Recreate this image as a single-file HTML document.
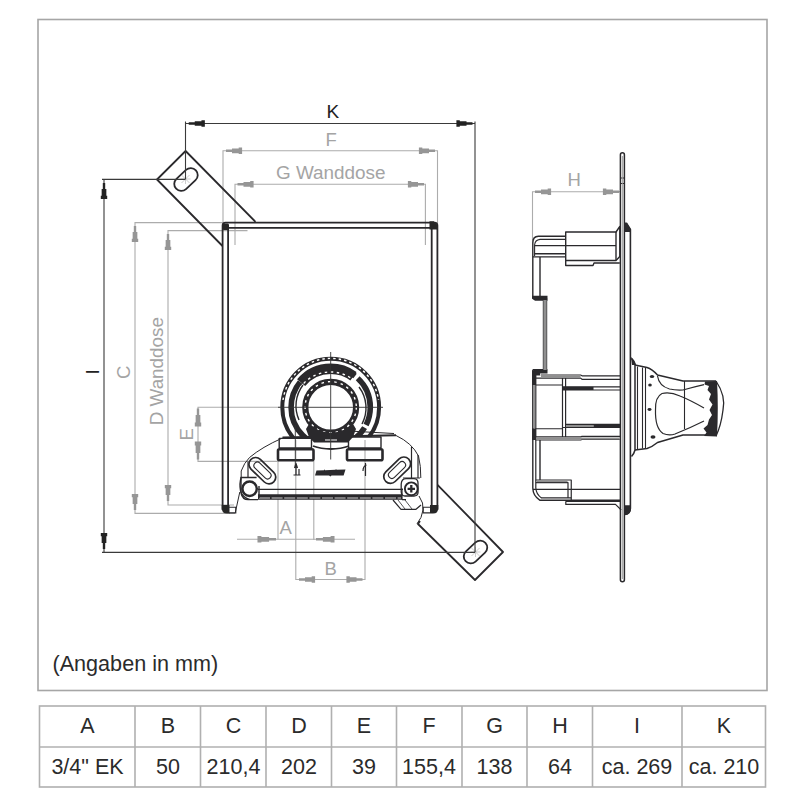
<!DOCTYPE html>
<html><head><meta charset="utf-8">
<style>
html,body{margin:0;padding:0;background:#fff;width:800px;height:800px;overflow:hidden}
svg{display:block;position:absolute;left:0;top:0}
text{font-family:"Liberation Sans",sans-serif}
</style></head><body>
<svg width="800" height="800" viewBox="0 0 800 800">
<!-- frame -->
<rect x="38" y="19.5" width="729" height="671" fill="none" stroke="#a6a6a6" stroke-width="1.6"/>
<!-- table -->
<g stroke="#b0b0b0" stroke-width="1.6" fill="none">
<rect x="39.5" y="706" width="726" height="81"/>
<line x1="39.5" y1="747" x2="765.5" y2="747"/>
<line x1="135" y1="706" x2="135" y2="787"/>
<line x1="200.5" y1="706" x2="200.5" y2="787"/>
<line x1="266" y1="706" x2="266" y2="787"/>
<line x1="331.5" y1="706" x2="331.5" y2="787"/>
<line x1="396.5" y1="706" x2="396.5" y2="787"/>
<line x1="462" y1="706" x2="462" y2="787"/>
<line x1="527" y1="706" x2="527" y2="787"/>
<line x1="592.5" y1="706" x2="592.5" y2="787"/>
<line x1="682" y1="706" x2="682" y2="787"/>
</g>
<g fill="#2b2b2b" font-size="21.5" text-anchor="middle">
<text x="87.5" y="732.8">A</text>
<text x="168" y="732.8">B</text>
<text x="233.5" y="732.8">C</text>
<text x="299" y="732.8">D</text>
<text x="364" y="732.8">E</text>
<text x="429" y="732.8">F</text>
<text x="494.5" y="732.8">G</text>
<text x="560" y="732.8">H</text>
<text x="637" y="732.8">I</text>
<text x="724" y="732.8">K</text>
<text x="87.5" y="773.8">3/4" EK</text>
<text x="168" y="773.8">50</text>
<text x="233.5" y="773.8">210,4</text>
<text x="299" y="773.8">202</text>
<text x="364" y="773.8">39</text>
<text x="429" y="773.8">155,4</text>
<text x="494.5" y="773.8">138</text>
<text x="560" y="773.8">64</text>
<text x="637" y="773.8">ca. 269</text>
<text x="724" y="773.8">ca. 210</text>
</g>
<text x="52.5" y="671" font-size="21.6" fill="#2b2b2b">(Angaben in mm)</text>

<!-- DRAWING -->
<defs>
<path id="ar" d="M-1.2,0 H1.2 V6 H2.35 V12.7 H3.2 V16.1 H-3.2 V12.7 H-2.35 V6 H-1.2 Z"/>
</defs>
<!-- gray dimension lines -->
<g stroke="#acacac" stroke-width="1.1" fill="none">
<!-- F -->
<polyline points="223,231 223,150.8 437.5,150.8 437.5,225"/>
<!-- G -->
<polyline points="235,245 235,184.3 425.4,184.3 425.4,245"/>
<!-- C -->
<polyline points="223,222.6 135,222.6 135,513.4 235,513.4"/>
<!-- D -->
<polyline points="247.5,230.6 168,230.6 168,505 234,505"/>
<!-- E -->
<polyline points="280,407.3 198,407.3 198,461.4 278,461.4"/>
<!-- H -->
<polyline points="532.5,240 532.5,191.8 621,191.8"/>
<!-- A -->
<line x1="237" y1="539.3" x2="355" y2="539.3"/>
<line x1="278" y1="461" x2="278" y2="539.3"/>
<line x1="313.8" y1="461" x2="313.8" y2="540"/>
<!-- B -->
<polyline points="295.8,440 295.8,579.5 365,579.5 365,440"/>
</g>
<g fill="#969696">
<use href="#ar" transform="translate(226,150.8) rotate(-90)"/>
<use href="#ar" transform="translate(435,150.8) rotate(90)"/>
<use href="#ar" transform="translate(237.5,184.3) rotate(-90)"/>
<use href="#ar" transform="translate(424,184.3) rotate(90)"/>
<use href="#ar" transform="translate(135,226)"/>
<use href="#ar" transform="translate(135,510) rotate(180)"/>
<use href="#ar" transform="translate(168,234)"/>
<use href="#ar" transform="translate(168,501) rotate(180)"/>
<use href="#ar" transform="translate(198,408.4) scale(1,1.12)"/>
<use href="#ar" transform="translate(198,459.6) rotate(180) scale(1,1.12)"/>
<use href="#ar" transform="translate(535,191.8) rotate(-90)"/>
<use href="#ar" transform="translate(619,191.8) rotate(90)"/>
<use href="#ar" transform="translate(276,539.3) rotate(90) scale(1,1.15)"/>
<use href="#ar" transform="translate(316,539.3) rotate(-90) scale(1,1.15)"/>
<use href="#ar" transform="translate(299,579.5) rotate(-90)"/>
<use href="#ar" transform="translate(362.5,579.5) rotate(90)"/>
</g>
<g fill="#a4a4a4" font-size="18.5">
<text x="325.5" y="145.8">F</text>
<text x="276" y="179.3" font-size="18.9">G Wanddose</text>
<text x="567.5" y="186.3">H</text>
<text x="279.5" y="534.3">A</text>
<text x="324.5" y="574.6">B</text>
<text transform="translate(130,379) rotate(-90)">C</text>
<text transform="translate(163,425.3) rotate(-90)" font-size="18.85">D Wanddose</text>
<text transform="translate(192.8,440.5) rotate(-90)">E</text>
</g>

<!-- FRONT VIEW -->
<g stroke="#2a292c" fill="none" stroke-width="1.8" stroke-linejoin="round">
<!-- upper tab -->
<path d="M255.5,221.8 L185.6,151 L157,179.5 L222.5,246"/>
<!-- slot upper -->
<rect x="172.5" y="172.5" width="27" height="14" rx="7" transform="rotate(-43 186 179.5)"/>
<!-- lower tab -->
<path d="M437.5,484.8 L503,552 L475,580 L418,524 L420,521"/>
<rect x="462" y="545" width="27" height="14" rx="7" transform="rotate(-43 475.5 552)"/>
<!-- box -->
<path d="M222.6,510 V225.5 Q222.6,222.6 225.5,222.6 H434.5 Q437.4,222.6 437.4,225.5 V510"/>
<path d="M228.1,506 V227.8 H431.7 V506"/>
</g>
<g fill="#262626">
<rect x="222.5" y="223.5" width="6.5" height="6.5" rx="1.5"/>
<path d="M429.5,221.3 H433.8 L437.4,225 V229.6 H429.5 Z"/>
<path d="M221.7,505 H229.5 V513.5 H227 Q221.7,513.5 221.7,508 Z"/>
<path d="M430,505 H438.3 V508 Q438.3,513.5 433,513.5 H430 Z"/>
</g>
<g fill="none" stroke="#2a292c" stroke-width="1.1">
<path d="M229,507.3 H235.8 V512.9 H229"/>
<path d="M430,507.3 H423.2 V512.9 H430"/>
</g>

<!-- PLATE + FITTING -->
<g stroke="#2a292c" fill="none" stroke-linejoin="round">
<!-- plate thin outline -->
<path stroke-width="1" d="M235.3,512.5 L239.8,492 M241.2,477 V471 Q244,463 249.5,457.5 Q262,447 282.5,438"/>
<path stroke-width="1.2" d="M241.2,477 Q239,484 240.5,491 Q243,498 250,499.5"/>
<path stroke-width="1" d="M396,435.5 Q412,443 418.5,456 Q421,466 420.8,478 M419,496 Q424,503 423,510 Q422,518 417,523.8"/>
<!-- plate top thick edge -->
<path stroke-width="2" d="M282.5,437.5 L396,435.3"/>
<path stroke-width="1" d="M354,431.3 L394,433.5"/>
<!-- plate bottom lines -->
<path stroke-width="1.3" d="M258,489.3 H403"/>
<path stroke-width="5.4" d="M258,497 H402"/>
<path stroke-width="1" stroke="#cfcfcf" stroke-dasharray="11 1.6" d="M259,498 H401"/>
<path stroke-width="1.2" d="M248,499.6 H258 M402,499.6 H406"/>
<path stroke-width="1.2" d="M393,500 L401,509.3 L416,509.3 L421,505"/>
<path stroke-width="0.8" d="M398,500 L405,509 M405,500 L412,509"/>
<!-- plate lower-left corner box -->
<path stroke-width="1.2" d="M248,461.5 V477"/>
<path stroke-width="1.2" d="M402,488.6 V499.5 M403,478 H420 M411.5,447 V478 M418,455 V478"/>
<!-- slots on plate -->
<rect stroke-width="1.7" x="246.5" y="464" width="32" height="13.5" rx="6.7" transform="rotate(44 262.5 470.5)"/>
<rect stroke-width="1.1" x="252" y="467" width="21" height="7" rx="3.5" transform="rotate(44 262.5 470.5)"/>
<rect stroke-width="1.7" x="381" y="463.5" width="32" height="13.5" rx="6.7" transform="rotate(-44 397 470)"/>
<rect stroke-width="1.1" x="386.5" y="466.5" width="21" height="7" rx="3.5" transform="rotate(-44 397 470)"/>
<!-- screws -->
<circle cx="249.6" cy="488.7" r="7.2" stroke-width="2.5"/>
<path stroke-width="1.4" d="M241,493 V477.5 H256.6 M241,493 Q242.5,499.5 248,499.6 M259,486 V498"/>
<circle cx="411.3" cy="488.8" r="6.4" stroke-width="1.9"/>
<path stroke-width="2.3" d="M407.6,488.8 H415 M411.3,485.1 V492.5"/>
<path stroke-width="1.3" d="M401.2,484 Q401.5,478.8 406,478.6 H414 Q418,479 418,483 V493 Q417.5,496 414,496 H405 Q401.5,496 401.2,492 Z"/>
<!-- ports -->
<rect stroke-width="1.4" x="279.2" y="438.4" width="32.3" height="9.6"/>
<rect stroke-width="2.6" x="278" y="449.3" width="35.5" height="11" rx="1.5"/>
<rect stroke-width="1.4" x="348.5" y="437" width="32.5" height="11"/>
<rect stroke-width="2.6" x="347" y="449.3" width="35.5" height="11" rx="1.5"/>
<!-- logo -->
<path fill="#2a292c" stroke="none" d="M316.5,470.6 L324,470.3 L324.5,469.3 L325,470.2 L335.5,469.8 L336,469 L336.6,469.8 L345.5,469.4 L343.6,475.4 L331.5,475.5 L330.5,476.6 L329,475.5 L315,475.4 Z"/>
<!-- port arrows -->
<path stroke-width="1.2" d="M296,475 V465 M294.5,468 L296,463.5 L297.5,468 M299,475 V469 M293.5,475 H300.5 M365.5,463 V476 M363,471 Q363,466 366.5,465"/>
<!-- fitting rings -->
</g>
<clipPath id="fc"><rect x="270" y="340" width="122" height="97"/></clipPath>
<g stroke="#2a292c" fill="none" clip-path="url(#fc)">
<circle cx="330.7" cy="407.2" r="48.4" stroke-width="4"/>
<path stroke="#fff" stroke-width="1.4" stroke-dasharray="2.5 3" d="M283,400 A48.2,48.2 0 0 1 378.5,400"/>
<circle cx="330.7" cy="407.2" r="39.6" stroke-width="5.6" stroke-dasharray="18.5 3 130 3 58 3.5 37.2 0"/>
<circle cx="330.7" cy="407.2" r="38.4" stroke-width="10.5" stroke-dasharray="0 147 58 1000"/>
<path stroke="#fff" stroke-width="1.4" stroke-dasharray="2.5 3.5" d="M300,388 A37,37 0 0 1 361,388"/>
<path stroke-width="1.4" d="M303,385 A34.5,34.5 0 0 0 299,420 M359,387 A34.5,34.5 0 0 1 362,424"/>
<circle cx="330.7" cy="407.2" r="25.4" stroke-width="6.2"/>
<circle cx="330.7" cy="407.2" r="25.6" stroke="#fff" stroke-width="1.4" stroke-dasharray="2.5 4"/>
</g>
<!-- bottom dark blob of fitting -->
<path fill="#2a292c" d="M309,424 Q318,432 331,433 Q344,432 353,424 L356,429 L353,437 L348,442.5 H314 L309,437 L306,429 Z"/>
<path fill="none" stroke="#2a292c" stroke-width="1.8" d="M313,446 Q321,449 331,449 Q341,449 349,446"/>
<path fill="none" stroke="#fff" stroke-width="1" d="M325,440 H337"/>
<!-- center lines -->
<g stroke="#333" stroke-width="0.9" fill="none">
<line x1="330.7" y1="352" x2="330.7" y2="459.5"/>
<line x1="278" y1="407.3" x2="383" y2="407.3"/>
<line x1="295.3" y1="425" x2="295.3" y2="466"/>
</g>

<!-- SIDE VIEW -->
<g stroke="#2a292c" fill="none" stroke-linejoin="round" stroke-width="1.4">
<!-- plate -->
<rect x="620.4" y="152.8" width="4" height="429" rx="2" stroke-width="1.5"/>
<path stroke-width="1" d="M620.6,178 H624.2 M620.6,183.5 H624.2"/>
<!-- right frame -->
<path stroke-width="1.6" d="M624.8,223.2 H626.5 L630.4,229.5 V508 Q630.2,514.5 624.8,514.5"/>
<path stroke-width="1.2" d="M625,231.5 H630 M625,506 H630"/>
<path stroke="#999" stroke-width="0.9" d="M622.4,156 V579"/>
<!-- upper assembly -->
<path d="M532.8,298.5 V243 Q532.8,236.3 538.4,236.3 H565.6"/>
<path stroke-width="1.1" d="M534.6,256 V245 Q535,240 540,239.4 H565.6"/>
<path d="M534.6,245.6 H616 M534.6,253.75 H565.6 M532.8,256.9 H565.6"/>
<path d="M540,256.9 V297 M532.8,298.5 H546.5 V310"/>
<path d="M565.7,232 H616 L619.8,226.5 V256.5 L616,260.5 H565.7 Z"/>
<path d="M616,232 V260"/>
<path d="M565.7,260.5 V265.5 H593 L594,263 H619.8"/>
<!-- wall down to lower box -->
<path d="M546.5,310 V370.5"/>
<path d="M543.5,298.5 V370.5"/>
<!-- lower box -->
<path d="M532.8,369.8 H543 L546.5,372 M532.8,369.8 V488 Q533,496 540,500.3 H620.3"/>
<path stroke-width="1.2" d="M535.8,372 V488 Q536.3,494.5 541.5,497.9 H571.25"/>
<path stroke-width="1.2" d="M540.6,375 H580.6 L582,375.8 H620.3 M535.6,378.1 H580.6 L582,379.3 H620.3"/>
<path stroke-width="1.2" d="M535.6,385 H562.5 M535.6,428.75 H562.5"/>
<path stroke-width="1.2" d="M562.5,378.1 V437 M565.6,378.1 V437"/>
<path stroke-width="1.2" d="M562.5,386.9 H620.3 M562.5,390 H620.3"/>
<path stroke-width="1.2" d="M565.6,424.4 H620.3 M562.5,427.5 H620.3"/>
<path stroke-width="1.2" d="M535.6,436.9 H580.6 L582,436.4 H620.3 M535.6,440 H580.6 L582,439.5 H620.3"/>
<g stroke="none" fill="#8f8f8f">
<rect x="541" y="375.6" width="39.5" height="2"/>
<rect x="566" y="425" width="27.5" height="2"/>
<rect x="536" y="437.5" width="84" height="2"/>
<rect x="533.1" y="385" width="2" height="43.5"/>
</g>
<g stroke="none" fill="#2a292c">
<rect x="562.5" y="386.9" width="31" height="3.1"/>
<rect x="593.5" y="424.4" width="26.8" height="3.1"/>
<rect x="532" y="371" width="4" height="14"/>
<rect x="532" y="428.5" width="4" height="11.5"/>
</g>
<path d="M540,440 V480"/>
<path stroke-width="1.2" d="M535.8,480 H571.25 V500 M535.8,482.6 H568 V498"/>
<rect x="536.5" y="480.6" width="31" height="1.5" fill="#8f8f8f" stroke="none"/>
<path stroke-width="1.2" d="M532.8,489.4 H620.3"/>
<path stroke-width="1.2" d="M565.8,501.3 V504.4 H615.5 L621.2,510 M565.8,501.3 H620.3"/>
</g>
<g fill="#2a292c">
<path d="M624.5,223 H626.8 L631,229.8 V232 H624.5 Z"/>
<path d="M532,295.8 H547.5 V300.8 H535 L532,298.5 Z"/>
<path d="M534.5,369.2 H547.5 V373.6 H540 V375.6 H532 V371.8 Z"/>
<rect x="543.4" y="300" width="3.2" height="70" fill="#8f8f8f"/>
<path d="M624.5,505.5 H631 V508 Q631,515 624.5,515 Z"/>
</g>

<!-- side fitting -->
<g stroke="#2a292c" fill="none" stroke-linejoin="round" stroke-width="1.5">
<path d="M631.5,358.5 Q634,361 635,365 V450 Q634,454 631.5,456.5"/>
<path stroke-width="1.1" d="M637.5,366.5 V449 M642.5,367.5 V448.5 M645.5,367.5 V448.5"/>
<path d="M635,365 L647,367.5 Q652,369 657.5,375 L683,381 H716"/>
<path d="M635,450 L647,448.5 Q652,447 657.5,442.5 L683,435 H716"/>
<path stroke-width="1.3" d="M716,381 Q726,396 723,410 Q721,426 716,436"/>
<path stroke-width="1.2" d="M657.5,376 Q659,386 669.5,389 Q676,390.5 683,390 Q694,387 704,384.7"/>
<path stroke-width="1.2" d="M704,408 Q690,400 680,396 Q670,391.5 662,393.5 Q655,397 655.5,410 Q655,428 663,433.5 Q669,436 675,434 Q690,428 704,421"/>
<path stroke-width="1.1" d="M684.5,381 V429"/>
</g>
<g fill="#2a292c">
<path d="M705,381.5 L717,381 Q718.6,408 717,436.5 L704,436 L706.5,432.5 L703.5,428.5 L707.5,425 L709,419.5 L712,415 L709.5,410 L712.5,404.5 L709,399.5 L711,394 L707.5,390 L709,386 L704.5,384.5 Z"/>
<ellipse cx="652" cy="376.5" rx="2.2" ry="1.6"/>
<ellipse cx="650" cy="385" rx="1.8" ry="1.5"/>
<ellipse cx="649.5" cy="409.5" rx="2" ry="1.4"/>
<ellipse cx="653" cy="437" rx="2.5" ry="1.7"/>
<path d="M631,357 Q635,360 636,365 H632 Z"/>
</g>
<g stroke="#b8b8b8" stroke-width="0.7"><path d="M181.5,175 L189.5,183 M181.5,183 L189.5,175 M185.5,174 V184 M180.5,179 H190.5"/><path d="M471.5,548 L479.5,556 M471.5,556 L479.5,548 M475.5,547 V557 M470.5,552 H480.5"/></g>
<!-- dark dims -->
<g stroke="#3a3a3a" stroke-width="1.1" fill="none">
<path d="M185.5,179 V121.5 M185.5,123.5 H475 M475,121.5 V552"/>
<path d="M185.5,179.4 H102 M104,179.4 V552.4 M102,552.4 H475"/>
</g>
<g fill="#222">
<use href="#ar" transform="translate(188.75,123.5) rotate(-90)"/>
<use href="#ar" transform="translate(472.5,123.5) rotate(90)"/>
<use href="#ar" transform="translate(104,183)"/>
<use href="#ar" transform="translate(104,549) rotate(180)"/>
</g>
<text x="326.5" y="118.2" font-size="19" fill="#222">K</text>
<text transform="translate(98.5,374.5) rotate(-90)" font-size="19" fill="#222">I</text>

<g id="dims-gray" stroke="#ababab" stroke-width="1.2" fill="none">
</g>
</svg>
</body></html>
